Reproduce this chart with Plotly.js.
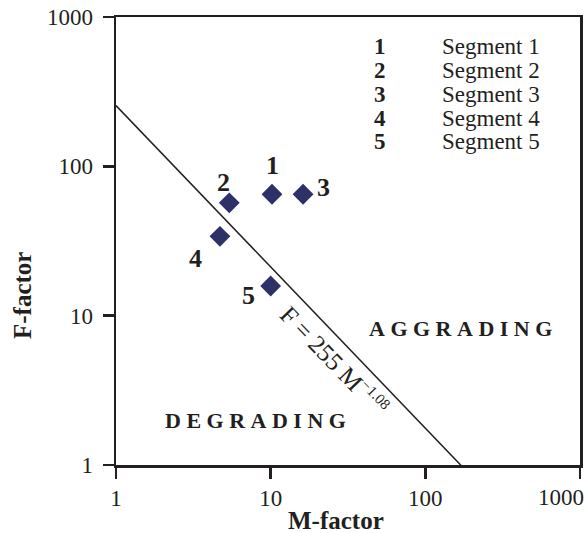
<!DOCTYPE html>
<html>
<head>
<meta charset="utf-8">
<script src="https://cdn.plot.ly/plotly-3.0.1.min.js"></script>
<style>html,body{margin:0;padding:0;background:#fff;}#chart{width:586px;height:533px;}</style>
</head>
<body>
<div id="chart"></div>
<script>
// Data
var segmentIds = ["1", "2", "3", "4", "5"];
var segmentNames = ["Segment 1", "Segment 2", "Segment 3", "Segment 4", "Segment 5"];
var mFactor = [10.2, 5.4, 16.2, 4.7, 10.0];
var fFactor = [65, 57, 65, 34, 15.8];
var lineCoef = 255;
var lineExp = -1.08;
var lineM = [1, 1000];
var xTicks = [1, 10, 100, 1000];
var yTicks = [1, 10, 100, 1000];

var serif = "Liberation Serif, Times New Roman, serif";
var ink = "#231f20";
var lineF = lineM.map(function (m) { return lineCoef * Math.pow(m, lineExp); });

var traces = [
  {
    x: lineM, y: lineF, mode: "lines", type: "scatter",
    line: {color: ink, width: 1.5}, hoverinfo: "skip", showlegend: false
  },
  {
    x: mFactor, y: fFactor, mode: "markers", type: "scatter",
    marker: {symbol: "diamond", size: 16, color: "#2e3068"},
    showlegend: false
  }
];

var L = 116, R = 6, T = 17, B = 68, W = 586, H = 533;
var pw = W - L - R, ph = H - T - B;
function px(x) { return (x - L) / pw; }
function py(y) { return 1 - (y - T) / ph; }

// point label offsets (pixels; +y = up)
var labelOffsets = [[0, 29], [-6, 20], [20, 7], [-24, -22], [-22, -9]];
var annotations = [];
segmentIds.forEach(function (id, i) {
  annotations.push({
    x: Math.log10(mFactor[i]), y: Math.log10(fFactor[i]), xref: "x", yref: "y",
    text: "<b>" + id + "</b>", showarrow: false, xanchor: "center", yanchor: "middle",
    xshift: labelOffsets[i][0], yshift: labelOffsets[i][1],
    font: {family: serif, size: 26, color: ink}
  });
  // legend
  annotations.push({
    x: px(380), y: py(47 + i * 23.7), xref: "paper", yref: "paper",
    text: "<b>" + id + "</b>", showarrow: false, xanchor: "center", yanchor: "middle",
    font: {family: serif, size: 23, color: ink}
  });
  annotations.push({
    x: px(440), y: py(47 + i * 23.7), xref: "paper", yref: "paper",
    text: segmentNames[i], showarrow: false, xanchor: "left", yanchor: "middle",
    font: {family: serif, size: 23, color: ink}
  });
});

function spaced(s) { return s.split("").join("\u00a0"); }

annotations.push({
  x: px(460), y: py(328), xref: "paper", yref: "paper",
  text: "<b>" + spaced("AGGRADING") + "</b>", showarrow: false,
  xanchor: "center", yanchor: "middle", font: {family: serif, size: 22, color: ink}
});
annotations.push({
  x: px(255), y: py(420), xref: "paper", yref: "paper",
  text: "<b>" + spaced("DEGRADING") + "</b>", showarrow: false,
  xanchor: "center", yanchor: "middle", font: {family: serif, size: 22, color: ink}
});
annotations.push({
  x: px(334), y: py(360), xref: "paper", yref: "paper",
  text: "F = 255 M<sup><span style=\"font-size:15px\">\u22121.08</span></sup>", showarrow: false,
  textangle: 46, xanchor: "center", yanchor: "middle",
  font: {family: serif, size: 25, color: ink}
});
// axis titles
annotations.push({
  x: px(336), y: py(520), xref: "paper", yref: "paper",
  text: "<b>M-factor</b>", showarrow: false, xanchor: "center", yanchor: "middle",
  font: {family: serif, size: 25, color: ink}
});
annotations.push({
  x: px(22), y: py(296), xref: "paper", yref: "paper",
  text: "<b>F-factor</b>", showarrow: false, xanchor: "center", yanchor: "middle",
  textangle: -90, font: {family: serif, size: 25, color: ink}
});
// last x tick label, kept inside the page edge as in the reference
annotations.push({
  x: px(586), y: py(497), xref: "paper", yref: "paper",
  text: String(xTicks[xTicks.length - 1]), showarrow: false, xanchor: "right", yanchor: "middle",
  font: {family: serif, size: 23, color: ink}
});

var axisCommon = {
  type: "log", showgrid: false, zeroline: false,
  showline: true, linecolor: ink, linewidth: 2.5, mirror: true,
  ticks: "outside", ticklen: 11, tickwidth: 2.5, tickcolor: ink,
  tickfont: {family: serif, size: 23, color: ink},
  ticklabeloverflow: "allow"
};

var layout = {
  width: W, height: H,
  margin: {l: L, r: R, t: T, b: B},
  paper_bgcolor: "#fff", plot_bgcolor: "#fff",
  showlegend: false,
  xaxis: Object.assign({}, axisCommon, {
    range: [0, 3], tickvals: xTicks,
    ticktext: xTicks.map(function (v, i) { return i === xTicks.length - 1 ? "" : String(v); })
  }),
  yaxis: Object.assign({}, axisCommon, {
    range: [0, 3], tickvals: yTicks, ticktext: yTicks.map(String),
    ticklabelstandoff: 5
  }),
  annotations: annotations
};

Plotly.newPlot("chart", traces, layout, {displayModeBar: false, staticPlot: true});
</script>
</body>
</html>
